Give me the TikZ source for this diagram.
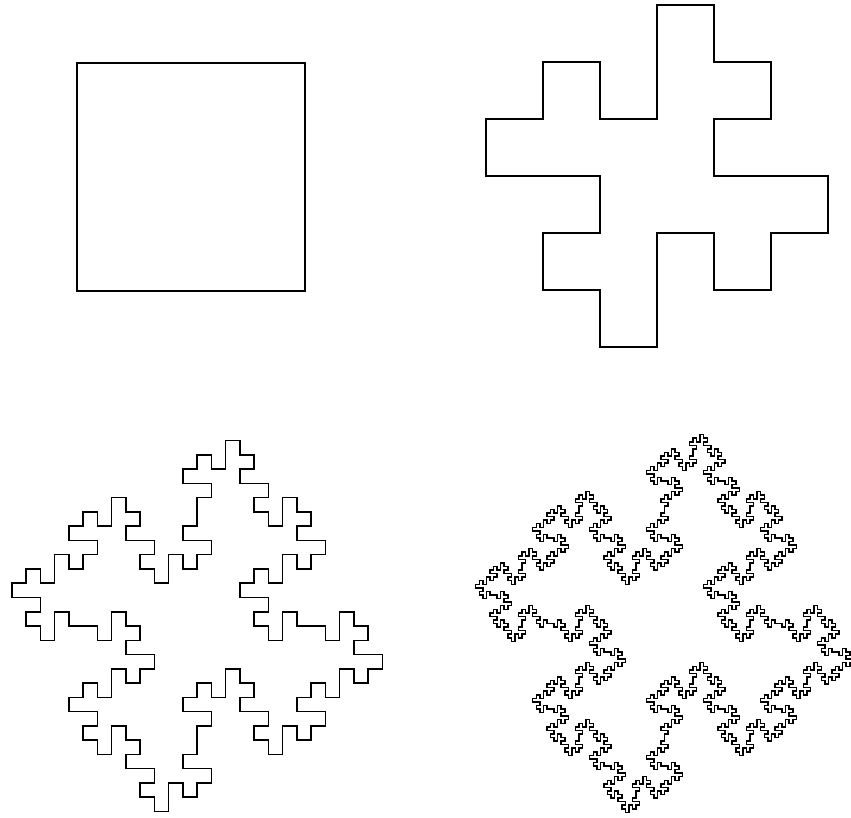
\documentclass[tikz,border=0pt]{standalone}
\usetikzlibrary{lindenmayersystems}

\pgfdeclarelindenmayersystem{quadkoch}{
  \rule{F -> F-F+F+FF-F-F+F}
}

\begin{document}
\begin{tikzpicture}[x=1pt, y=1pt]
  \useasboundingbox (0,0) rectangle (851,817);
  % levels 0 to 3, each one starts at the top left corner of its square
  \foreach \lvl/\px/\py in {0/77/754, 1/543/755, 2/83/305, 3/550.5/307.5} {
    \pgfmathsetmacro\len{228/(4^\lvl)}
    \draw[shift={(\px,\py)}, line width=1.5pt, line join=miter,
      l-system={quadkoch, axiom=F-F-F-F, order=\lvl, step=\len pt, angle=90}]
      lindenmayer system -- cycle;
  }
\end{tikzpicture}
\end{document}
